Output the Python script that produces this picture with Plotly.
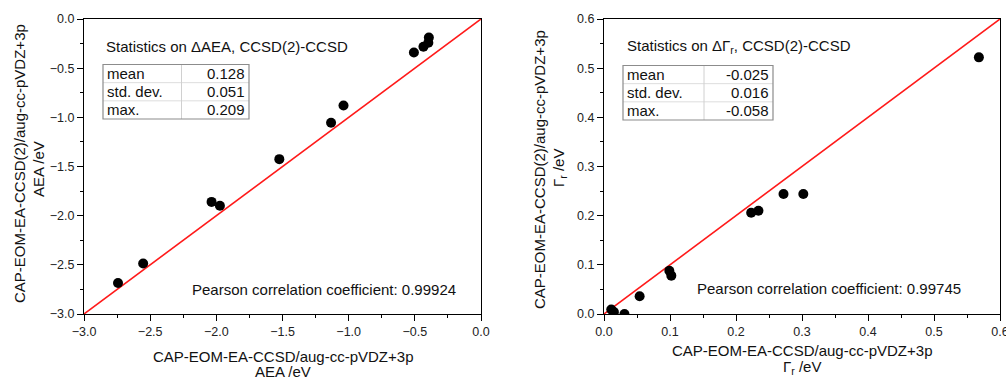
import plotly.graph_objects as go

# ---------------- data ----------------
aea_ccsd = [-2.743, -2.553, -2.036, -1.973, -1.524, -1.133, -1.039, -0.507, -0.435, -0.398, -0.394]
aea_ccsd2 = [-2.684, -2.487, -1.860, -1.900, -1.425, -1.055, -0.879, -0.341, -0.282, -0.241, -0.188]
diag_left = [-3.0, 0.0]

gr_ccsd = [0.568, 0.302, 0.272, 0.234, 0.223, 0.099, 0.102, 0.054, 0.031, 0.011, 0.015]
gr_ccsd2 = [0.522, 0.244, 0.244, 0.210, 0.206, 0.088, 0.078, 0.036, 0.000, 0.009, 0.004]
diag_right = [0.0, 0.6]

stat_labels = ["mean", "std. dev.", "max."]
stats_aea = ["0.128", "0.051", "0.209"]
stats_gr = ["-0.025", "0.016", "-0.058"]
pearson_aea = "0.99924"
pearson_gr = "0.99745"

W, H = 1006, 378
FONT = "Arial, Liberation Sans, sans-serif"


def px(x):
    return x / W


def py(y):
    return 1 - y / H


fig = go.Figure()

fig.add_trace(go.Scatter(x=diag_left, y=diag_left, mode="lines",
                         line=dict(color="#ff1a1a", width=1.6), xaxis="x", yaxis="y",
                         showlegend=False, hoverinfo="skip"))
fig.add_trace(go.Scatter(x=aea_ccsd, y=aea_ccsd2, mode="markers",
                         marker=dict(color="black", size=10), xaxis="x", yaxis="y",
                         showlegend=False))
fig.add_trace(go.Scatter(x=diag_right, y=diag_right, mode="lines",
                         line=dict(color="#ff1a1a", width=1.6), xaxis="x2", yaxis="y2",
                         showlegend=False, hoverinfo="skip"))
fig.add_trace(go.Scatter(x=gr_ccsd, y=gr_ccsd2, mode="markers",
                         marker=dict(color="black", size=10), xaxis="x2", yaxis="y2",
                         showlegend=False))

ydom = [py(314), py(19)]


def axis(rng, dtick, mdtick, dom, anchor):
    return dict(range=rng, dtick=dtick, tick0=0, tickformat=".1f", domain=dom, anchor=anchor,
                automargin=False, ticklabeloverflow="allow",
                showline=True, linecolor="black", linewidth=1, mirror=True,
                ticks="outside", ticklen=6, tickwidth=1, tickcolor="black",
                minor=dict(ticks="outside", dtick=mdtick, tick0=0, ticklen=3, tickcolor="black"),
                showgrid=False, zeroline=False,
                tickfont=dict(family=FONT, size=12.5, color="#222"))


fig.update_layout(
    width=W, height=H, margin=dict(l=0, r=0, t=0, b=0),
    paper_bgcolor="white", plot_bgcolor="white",
    font=dict(family=FONT, color="#111"),
    xaxis=axis([-3, 0], 0.5, 0.25, [px(84), px(481)], "y"),
    yaxis=axis([-3, 0], 0.5, 0.25, ydom, "x"),
    xaxis2=axis([0, 0.6], 0.1, 0.05, [px(604), px(1000)], "y2"),
    yaxis2=axis([0, 0.6], 0.1, 0.05, ydom, "x2"),
)

ann = []
shapes = []


def text(x, y, s, xanchor="left", angle=0, size=15):
    ann.append(dict(x=px(x), y=py(y), xref="paper", yref="paper", text=s, showarrow=False,
                    xanchor=xanchor, yanchor="middle", textangle=angle,
                    font=dict(family=FONT, size=size, color="#111")))


def table(x0, x1, xdiv, y0, y1, values):
    n = len(stat_labels)
    rh = (y1 - y0) / n
    for i in range(1, n):
        shapes.append(dict(type="line", xref="paper", yref="paper", x0=px(x0), x1=px(x1),
                           y0=py(y0 + i * rh), y1=py(y0 + i * rh), line=dict(color="#dddddd", width=1)))
    shapes.append(dict(type="line", xref="paper", yref="paper", x0=px(xdiv), x1=px(xdiv),
                       y0=py(y0), y1=py(y1), line=dict(color="#d0d0d0", width=1)))
    shapes.append(dict(type="rect", xref="paper", yref="paper", x0=px(x0), x1=px(x1),
                       y0=py(y1), y1=py(y0), line=dict(color="#8c8c8c", width=1.2)))
    for i, (lab, val) in enumerate(zip(stat_labels, values)):
        yc = y0 + (i + 0.5) * rh
        text(x0 + 2, yc, lab, "left")
        text(x1 - 2, yc, val, "right")


# left panel
text(104, 47, "Statistics on ΔAEA, CCSD(2)-CCSD")
table(103, 249, 181.5, 64.5, 119, stats_aea)
text(458, 289, "Pearson correlation coefficient: " + pearson_aea, "right")
text(283, 356, "CAP-EOM-EA-CCSD/aug-cc-pVDZ+3p", "center")
text(283, 371, "AEA /eV", "center")
text(19, 164, "CAP-EOM-EA-CCSD(2)/aug-cc-pVDZ+3p", "center", -90)
text(38, 169, "AEA /eV", "center", -90)

# right panel
text(625, 47, "Statistics on ΔΓ<sub>r</sub>, CCSD(2)-CCSD")
table(623, 773, 704, 65.5, 120, stats_gr)
text(963, 288, "Pearson correlation coefficient: " + pearson_gr, "right")
text(802, 350, "CAP-EOM-EA-CCSD/aug-cc-pVDZ+3p", "center")
text(802, 367, "Γ<sub>r</sub> /eV", "center")
text(539, 170, "CAP-EOM-EA-CCSD(2)/aug-cc-pVDZ+3p", "center", -90)
text(559, 168, "Γ<sub>r</sub> /eV", "center", -90)

fig.update_layout(annotations=ann, shapes=shapes)

fig.write_html("out.html")
